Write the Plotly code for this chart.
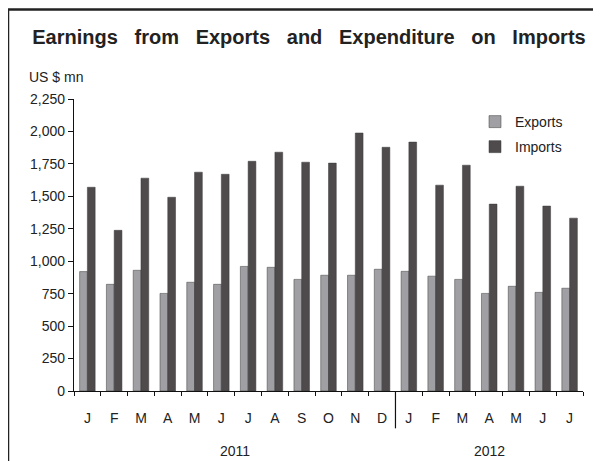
import plotly.graph_objects as go

months = ["J", "F", "M", "A", "M", "J", "J", "A", "S", "O", "N", "D",
          "J", "F", "M", "A", "M", "J", "J"]
years = ["2011", "2012"]
months_per_year = [12, 7]
exports = [920, 822, 930, 752, 838, 822, 960, 953, 860,
           892, 892, 938, 922, 885, 860, 752, 807, 760, 792]
imports = [1570, 1238, 1640, 1493, 1686, 1670, 1770, 1840, 1763,
           1756, 1988, 1878, 1918, 1586, 1740, 1440, 1578, 1425, 1332]
yticks = [0, 250, 500, 750, 1000, 1250, 1500, 1750, 2000, 2250]

W, H = 601, 461
OFF = 8  # page body margin: screen coords = figure coords + OFF
# targets in screen pixels
PLOT_L, PLOT_R, PLOT_T, PLOT_B = 74, 583, 99, 390.7
ML = PLOT_L - OFF
MR = W - (PLOT_R - OFF)
MT = PLOT_T - OFF
MB = H - (PLOT_B - OFF)
PW, PH = PLOT_R - PLOT_L, PLOT_B - PLOT_T

def px(x):
    return (x - PLOT_L) / PW

def py(y):
    return (PLOT_B - y) / PH

FONT = "Liberation Sans, Arial, sans-serif"
FS = 14
idx = list(range(len(months)))

fig = go.Figure()
fig.add_trace(go.Bar(x=idx, y=exports, name="Exports", legend="legend",
                     marker=dict(color="#a0a0a4", line=dict(color="#3a3a3a", width=0.5))))
fig.add_trace(go.Bar(x=idx, y=imports, name="Imports", legend="legend2",
                     marker=dict(color="#4f4b4c", line=dict(color="#3a3a3a", width=0.5))))

leg_common = dict(xanchor="left", yanchor="middle", bgcolor="rgba(0,0,0,0)",
                  font=dict(size=FS))
fig.update_layout(
    width=W, height=H,
    margin=dict(l=ML, r=MR, t=MT, b=MB),
    paper_bgcolor="white", plot_bgcolor="white",
    font=dict(family=FONT, size=FS, color="#222"),
    barmode="group", bargap=0.42, bargroupgap=0,
    showlegend=True,
    legend=dict(x=px(475), y=py(122), **leg_common),
    legend2=dict(x=px(475), y=py(147), **leg_common),
    title=dict(text="<b>Earnings   from   Exports   and   Expenditure   on   Imports</b>",
               x=px(309), xref="paper", xanchor="center",
               y=1 - (37 - OFF) / H, yanchor="middle",
               font=dict(size=20, family=FONT, color="#222")),
)

fig.update_xaxes(
    range=[-0.5, len(months) - 0.5],
    tickmode="array", tickvals=idx, ticktext=months,
    ticks="", ticklabelstandoff=14,
    showline=True, linecolor="#111", linewidth=1.2,
    showgrid=False, zeroline=False,
    minor=dict(tickmode="array",
               tickvals=[i - 0.5 for i in range(len(months) + 1)],
               ticks="outside", ticklen=4, tickcolor="#111", tickwidth=1.2),
)
fig.update_yaxes(
    range=[0, 2250], tickmode="array", tickvals=yticks, tickformat=",",
    ticks="outside", ticklen=5, tickcolor="#111", tickwidth=1.2,
    showline=True, linecolor="#111", linewidth=1.2,
    showgrid=False, zeroline=False,
)

# year labels
start = 0
for yr, n in zip(years, months_per_year):
    fig.add_annotation(x=start + (n - 1) / 2, y=py(451), xref="x", yref="paper",
                       text=yr, showarrow=False, font=dict(size=FS),
                       xanchor="center", yanchor="middle")
    start += n

# year separator
fig.add_shape(type="line", xref="x", yref="paper",
              x0=months_per_year[0] - 0.5, x1=months_per_year[0] - 0.5,
              y0=py(391), y1=py(428), line=dict(color="#111", width=1.2))

# unit label
fig.add_annotation(x=px(27), y=py(77), xref="paper", yref="paper",
                   text="US $ mn", showarrow=False, font=dict(size=FS),
                   xanchor="left", yanchor="middle")

# outer frame
fig.add_shape(type="rect", xref="paper", yref="paper",
              x0=px(8), x1=px(640), y0=py(500), y1=py(9.5),
              line=dict(color="#222", width=2.5), fillcolor="rgba(0,0,0,0)",
              layer="below")

fig.write_html("out.html")
